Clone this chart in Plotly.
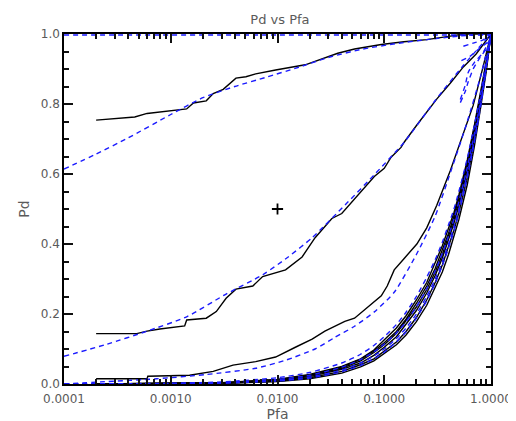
import plotly.graph_objects as go

# ---------------- data ----------------
title_text = "Pd vs Pfa"
x_label = "Pfa"
y_label = "Pd"
x_tick_vals = [0.0001, 0.001, 0.01, 0.1, 1.0]
x_tick_text = ["0.0001", "0.0010", "0.0100", "0.1000", "1.0000"]
y_tick_vals = [0.0, 0.2, 0.4, 0.6, 0.8, 1.0]
y_tick_text = ["0.0", "0.2", "0.4", "0.6", "0.8", "1.0"]

# curve A (high Pd)
a_black_pfa = [0.0002, 0.00046, 0.0006, 0.00086, 0.00141, 0.00163, 0.00215, 0.0025, 0.0031,
               0.00408, 0.00506, 0.00625, 0.0078, 0.0096, 0.0182, 0.0367, 0.0527, 0.0938,
               0.153, 0.25, 0.417, 0.551, 1.0]
a_black_pd = [0.754, 0.763, 0.773, 0.779, 0.786, 0.803, 0.809, 0.83, 0.842,
              0.874, 0.878, 0.886, 0.892, 0.897, 0.912, 0.945, 0.957, 0.97,
              0.978, 0.984, 0.994, 1.0, 1.0]
a_blue_pfa = [0.0001, 0.0002, 0.000398, 0.001, 0.002, 0.00398, 0.00794, 0.0158, 0.0316,
              0.063, 0.126, 0.251, 0.501, 1.0]
a_blue_pd = [0.614, 0.657, 0.703, 0.77, 0.818, 0.85, 0.877, 0.905, 0.935,
             0.957, 0.972, 0.984, 0.994, 1.0]

# curve B (middle)
b_black_pfa = [0.0002, 0.00048, 0.0006, 0.00079, 0.00135, 0.00141, 0.00215, 0.00267, 0.0033,
               0.00408, 0.00587, 0.00726, 0.0119, 0.017, 0.0225, 0.0323, 0.04, 0.0612,
               0.0807, 0.1, 0.116, 0.1436, 0.153, 0.202, 0.31, 0.417, 0.551, 0.726, 1.0]
b_black_pd = [0.144, 0.144, 0.151, 0.157, 0.166, 0.183, 0.188, 0.207, 0.245,
              0.271, 0.28, 0.307, 0.326, 0.363, 0.418, 0.473, 0.487, 0.552,
              0.593, 0.616, 0.648, 0.676, 0.69, 0.74, 0.814, 0.86, 0.906, 0.943, 1.0]
b_blue_pfa = [0.0001, 0.000255, 0.0006, 0.00141, 0.0033, 0.00726, 0.0126, 0.0211, 0.0454,
              0.0807, 0.153, 0.3, 0.55, 1.0]
b_blue_pd = [0.079, 0.114, 0.151, 0.192, 0.257, 0.312, 0.363, 0.418, 0.519,
             0.598, 0.69, 0.81, 0.91, 1.0]

# curve C (low)
c_black_pfa = [0.0002, 0.0006, 0.00061, 0.0015, 0.0025, 0.00383, 0.00625, 0.0096, 0.0147,
               0.0211, 0.0278, 0.0427, 0.0527, 0.0653, 0.0938, 0.1066, 0.124, 0.153,
               0.202, 0.25, 0.31, 0.417, 0.551, 0.681, 0.843, 0.98, 1.0]
c_black_pd = [0.015, 0.015, 0.022, 0.025, 0.036, 0.054, 0.064, 0.077, 0.105,
              0.128, 0.151, 0.179, 0.188, 0.211, 0.252, 0.28, 0.326, 0.358,
              0.40, 0.446, 0.51, 0.611, 0.713, 0.796, 0.906, 0.99, 1.0]
c_blue_pfa = [0.0001, 0.00022, 0.00074, 0.00215, 0.00625, 0.0119, 0.0225, 0.0344, 0.0527,
              0.0807, 0.124, 0.2, 0.3, 0.445, 0.6, 0.8, 1.0]
c_blue_pd = [0.0, 0.006, 0.015, 0.027, 0.045, 0.068, 0.1, 0.133, 0.165,
             0.206, 0.262, 0.37, 0.48, 0.63, 0.75, 0.88, 1.0]

# cluster of near-chance curves
cluster_pfa = [0.0002, 0.001, 0.003, 0.01, 0.02, 0.04, 0.06, 0.08, 0.1, 0.13, 0.16, 0.2,
               0.25, 0.3, 0.35, 0.4, 0.45, 0.5, 0.6, 0.7, 0.8, 0.9, 1.0]
cluster_black_pd = [
    [0.0, 0.001, 0.003, 0.011, 0.024, 0.045, 0.066, 0.09, 0.112, 0.145, 0.18, 0.22,
     0.27, 0.32, 0.37, 0.42, 0.47, 0.52, 0.62, 0.72, 0.82, 0.91, 1.0],
    [0.0, 0.001, 0.002, 0.008, 0.018, 0.036, 0.055, 0.072, 0.095, 0.12, 0.15, 0.19,
     0.24, 0.29, 0.34, 0.39, 0.44, 0.49, 0.59, 0.70, 0.80, 0.90, 1.0],
    [0.0, 0.002, 0.004, 0.013, 0.027, 0.05, 0.072, 0.097, 0.125, 0.16, 0.195, 0.24,
     0.29, 0.345, 0.395, 0.445, 0.49, 0.54, 0.64, 0.74, 0.83, 0.92, 1.0],
    [0.0, 0.0, 0.002, 0.007, 0.015, 0.031, 0.049, 0.066, 0.086, 0.112, 0.14, 0.178,
     0.225, 0.275, 0.32, 0.37, 0.42, 0.47, 0.57, 0.68, 0.79, 0.89, 1.0],
    [0.0, 0.001, 0.003, 0.01, 0.021, 0.042, 0.06, 0.082, 0.105, 0.135, 0.17, 0.21,
     0.26, 0.31, 0.36, 0.41, 0.46, 0.51, 0.61, 0.71, 0.81, 0.905, 1.0],
    [0.0, 0.001, 0.003, 0.012, 0.025, 0.048, 0.07, 0.094, 0.118, 0.15, 0.185, 0.23,
     0.28, 0.33, 0.385, 0.43, 0.48, 0.53, 0.63, 0.73, 0.825, 0.915, 1.0],
]
cluster_blue_pfa = [0.0001, 0.001, 0.003, 0.01, 0.02, 0.04, 0.06, 0.08, 0.1, 0.13, 0.16, 0.2,
                    0.25, 0.3, 0.35, 0.4, 0.45, 0.5, 0.6, 0.7, 0.8, 0.9, 1.0]
cluster_blue_pd = [
    [0.0001, 0.001, 0.003, 0.01, 0.02, 0.04, 0.06, 0.08, 0.1, 0.13, 0.16, 0.2,
     0.25, 0.3, 0.35, 0.4, 0.45, 0.5, 0.6, 0.7, 0.8, 0.9, 1.0],
    [0.0002, 0.0014, 0.004, 0.013, 0.025, 0.048, 0.07, 0.092, 0.114, 0.146, 0.178, 0.22,
     0.272, 0.323, 0.373, 0.422, 0.472, 0.521, 0.619, 0.716, 0.812, 0.907, 1.0],
    [0.0, 0.0008, 0.0025, 0.0085, 0.017, 0.035, 0.053, 0.072, 0.091, 0.12, 0.149, 0.188,
     0.238, 0.288, 0.338, 0.388, 0.438, 0.489, 0.59, 0.692, 0.794, 0.897, 1.0],
    [0.0004, 0.002, 0.006, 0.018, 0.033, 0.06, 0.085, 0.11, 0.135, 0.17, 0.205, 0.25,
     0.305, 0.355, 0.405, 0.455, 0.5, 0.55, 0.645, 0.74, 0.83, 0.92, 1.0],
]

# short dashed curves fanning into the upper-right corner
fan_pfa = [
    [0.516, 0.574, 0.613, 0.681, 0.79, 0.98, 1.0],
    [0.516, 0.574, 0.613, 0.70, 0.843, 1.0],
    [0.528, 0.64, 0.79, 0.98, 1.0],
    [0.551, 0.681, 0.843, 1.0],
    [0.0001, 0.01, 1.0],
]
fan_pd = [
    [0.804, 0.836, 0.864, 0.90, 0.933, 0.974, 1.0],
    [0.813, 0.854, 0.891, 0.919, 0.947, 0.99],
    [0.924, 0.937, 0.96, 0.983, 1.0],
    [0.965, 0.974, 0.983, 1.0],
    [0.997, 0.997, 0.997],
]

marker_pfa = [0.01]
marker_pd = [0.5]

# ---------------- figure ----------------
BLACK = "#000000"
BLUE = "#1a1aff"
GRAY = "#5a5a5a"
FONT = "DejaVu Sans"
TICK = "#111111"

# minor tick positions (2..9 in each decade, every 0.05 on Pd)
x_minor = [m * d for d in x_tick_vals[:-1] for m in range(2, 10)]
y_minor = [round(i * 0.05, 2) for i in range(21) if i % 4 != 0]

fig = go.Figure()


def black(x, y):
    fig.add_trace(go.Scatter(x=x, y=y, mode="lines",
                             line=dict(color=BLACK, width=1.4), showlegend=False,
                             hoverinfo="skip"))


def blue(x, y):
    fig.add_trace(go.Scatter(x=x, y=y, mode="lines",
                             line=dict(color=BLUE, width=1.4, dash="5px,4px", shape="spline",
                                       smoothing=0.6),
                             showlegend=False, hoverinfo="skip"))


for pdv in cluster_black_pd:
    black(cluster_pfa, pdv)
black(c_black_pfa, c_black_pd)
black(b_black_pfa, b_black_pd)
black(a_black_pfa, a_black_pd)

for pdv in cluster_blue_pd:
    blue(cluster_blue_pfa, pdv)
blue(c_blue_pfa, c_blue_pd)
blue(b_blue_pfa, b_blue_pd)
blue(a_blue_pfa, a_blue_pd)
for fx, fy in zip(fan_pfa, fan_pd):
    blue(fx, fy)

fig.add_trace(go.Scatter(x=marker_pfa, y=marker_pd, mode="markers",
                         marker=dict(symbol="cross-thin", size=8,
                                     line=dict(color=BLACK, width=1.8)),
                         showlegend=False, hoverinfo="skip"))

fig.update_layout(
    width=516, height=421,
    margin=dict(l=56, r=28, t=26, b=33),
    paper_bgcolor="white", plot_bgcolor="white",
    font=dict(family=FONT, size=12, color=GRAY),
    title=dict(text=title_text, x=0.527, xanchor="center", y=0.972, yanchor="middle",
               font=dict(size=13)),
    showlegend=False,
)

fig.update_xaxes(
    type="log", range=[-4, 0],
    tickmode="array", tickvals=x_tick_vals, ticktext=x_tick_text,
    ticks="inside", ticklen=9, tickwidth=2, tickcolor=TICK,
    ticklabelstandoff=3,
    minor=dict(tickmode="array", tickvals=x_minor, ticks="inside", ticklen=5,
               tickwidth=1.6, tickcolor=TICK, showgrid=False),
    showline=True, linecolor=BLACK, linewidth=1.5, mirror="allticks",
    showgrid=False, zeroline=False,
    title=dict(text=x_label, standoff=1),
)
fig.update_yaxes(
    range=[0, 1],
    tickmode="array", tickvals=y_tick_vals, ticktext=y_tick_text,
    ticks="inside", ticklen=9, tickwidth=2, tickcolor=TICK,
    minor=dict(tickmode="array", tickvals=y_minor, ticks="inside", ticklen=5,
               tickwidth=1.6, tickcolor=TICK, showgrid=False),
    showline=True, linecolor=BLACK, linewidth=1.5, mirror="allticks",
    showgrid=False, zeroline=False,
    title=dict(text=y_label, standoff=8),
)

fig.write_html("out.html")
